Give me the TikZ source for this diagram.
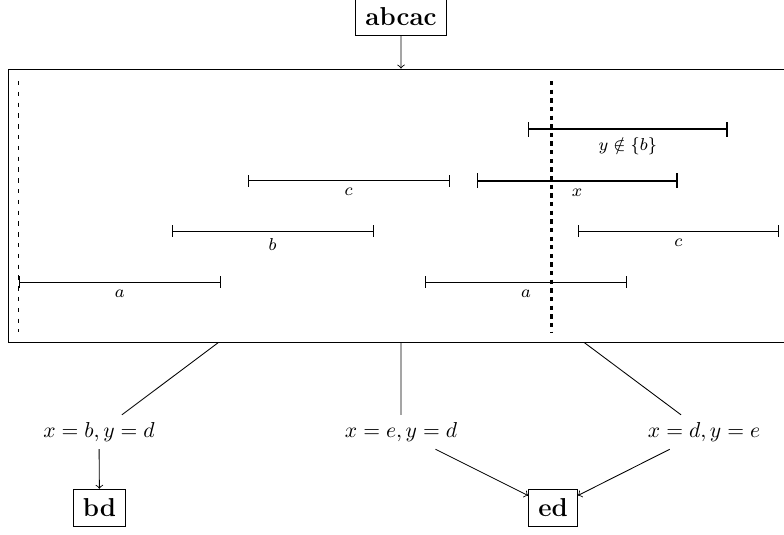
\documentclass[tikz,border=0pt]{standalone}
\usepackage{amsmath}
\usepackage{amssymb}
\usepackage{tikz}
\usetikzlibrary{fit}

\begin{document}
\begin{tikzpicture}[x=0.463pt,y=-0.463pt,
        word/.style={draw,font=\large\bfseries,inner sep=4.5pt},
        seg/.style={|-|},
        seglabel/.style={below,font=\footnotesize}]
        \useasboundingbox (0,0) rectangle (784,534);

        \node[word] (abcac) at (401,16.3) {abcac};
        \node[draw,inner sep=0pt,fit={(8.5,69) (793.5,342)}] (stab) {};
        \draw[->] (abcac) -- (stab);

        % Sweep lines
        \draw[dash pattern=on 2pt off 3pt] (18.5,81) -- (18.5,332);
        \draw[line width=1pt,dash pattern=on 2pt off 2pt] (551.5,81) -- (551.5,332);

        % Intervals
        \draw[seg] (18.5,282) -- (221,282) node[midway,seglabel] {$a$};
        \draw[seg] (425,282) -- (627,282) node[midway,seglabel] {$a$};
        \draw[seg] (171.5,231.3) -- (373.5,231.3) node[midway,seglabel] {$b$};
        \draw[seg] (577.5,231.3) -- (779,231.3) node[midway,seglabel] {$c$};
        \draw[seg] (247.5,180.7) -- (449.5,180.7) node[midway,seglabel] {$c$};
        \draw[seg,thick] (476.5,180.7) -- (677.5,180.7) node[midway,seglabel] {$x$};
        \draw[seg,thick] (527.5,129.3) -- (728,129.3) node[midway,seglabel] {$y \notin \{b\}$};

        % Cases
        \node (xbyd) at (99,432) {$x = b, y = d$};
        \node (xeyd) at (401,432) {$x = e, y = d$};
        \node (xdye) at (704,432) {$x = d, y = e$};
        \draw (stab) -- (xbyd);
        \draw (stab) -- (xeyd);
        \draw (stab) -- (xdye);

        % Results
        \node[word] (bd) at (99.5,508) {bd};
        \node[word] (ed) at (553,508) {ed};
        \draw[->] (xbyd) -- (bd);
        \draw[->] (xeyd) -- (ed);
        \draw[->] (xdye) -- (ed);
    \end{tikzpicture}
\end{document}
